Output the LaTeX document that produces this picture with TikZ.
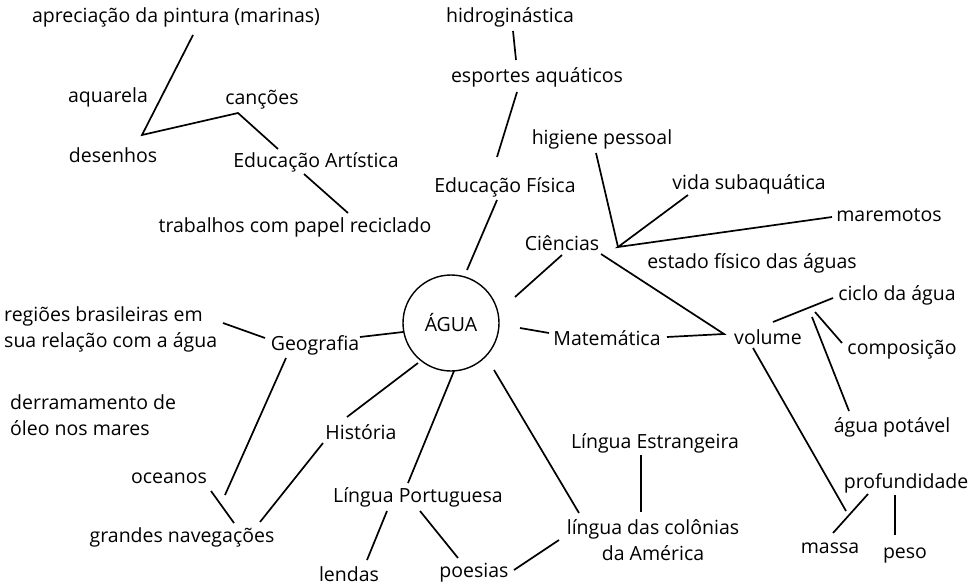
\documentclass[tikz,border=0pt]{standalone}
\usepackage{fontspec}
\setmainfont{Open Sans}
\begin{document}
\begin{tikzpicture}[x=1pt,y=-1pt,
  lbl/.style={inner sep=0pt,font=\fontsize{19.5}{26}\selectfont},
  ln/.style={line width=1.7pt,line join=miter}]
\useasboundingbox (0,0) rectangle (973,585);
% labels
\node[lbl] (apr) at (176,17) {apreciação da pintura (marinas)};
\node[lbl] (aqu) at (108,97) {aquarela};
\node[lbl] (can) at (262,100) {canções};
\node[lbl] (des) at (113,155) {desenhos};
\node[lbl] (edart) at (316,162) {Educação Artística};
\node[lbl] (trab) at (295,227) {trabalhos com papel reciclado};
\node[lbl] (hid) at (510,17) {hidroginástica};
\node[lbl] (esp) at (537,77) {esportes aquáticos};
\node[lbl] (edfis) at (505,187) {Educação Física};
\node[lbl] (hig) at (602,139) {higiene pessoal};
\node[lbl] (vida) at (749,184) {vida subaquática};
\node[lbl] (mare) at (889,215) {maremotos};
\node[lbl] (cien) at (562,243) {Ciências};
\node[lbl] (est) at (752,263) {estado físico das águas};
\node[draw,circle,line width=1.4pt,minimum size=96pt,inner sep=0pt,font=\fontsize{19.5}{26}\selectfont] (agua) at (451,323) {ÁGUA};
\node[lbl,align=left,anchor=west] (reg) at (4,329) {regiões brasileiras em\\sua relação com a água};
\node[lbl] (geo) at (315,345) {Geografia};
\node[lbl] (mat) at (607,338) {Matemática};
\node[lbl] (vol) at (768,337) {volume};
\node[lbl] (cic) at (897,295) {ciclo da água};
\node[lbl] (comp) at (902,350) {composição};
\node[lbl,align=left,anchor=west] (der) at (10,415) {derramamento de\\óleo nos mares};
\node[lbl] (pot) at (892,427) {água potável};
\node[lbl] (his) at (361,432) {História};
\node[lbl] (lest) at (655,443) {Língua Estrangeira};
\node[lbl] (oce) at (169,478) {oceanos};
\node[lbl] (prof) at (906,483) {profundidade};
\node[lbl] (lport) at (418,497) {Língua Portuguesa};
\node[lbl] (gran) at (182,537) {grandes navegações};
\node[lbl,align=center] (col) at (653,540) {língua das colônias\\da América};
\node[lbl] (mas) at (830,548) {massa};
\node[lbl] (peso) at (905,556) {peso};
\node[lbl] (len) at (349,574) {lendas};
\node[lbl] (poe) at (474,573) {poesias};
% endpoints
\coordinate (a1) at (193,35); \coordinate (a2) at (142,135);
\coordinate (a3) at (238,113); \coordinate (a4) at (278,149);
\coordinate (t1) at (304,174); \coordinate (t2) at (348,213);
\coordinate (h1) at (513,31); \coordinate (h2) at (516,60);
\coordinate (e1) at (517,92); \coordinate (e2) at (497,157);
\coordinate (f1) at (497,200); \coordinate (f2) at (467,270);
\coordinate (g1) at (596,153); \coordinate (J) at (618,247);
\coordinate (v1) at (688,195); \coordinate (m1) at (832,217);
\coordinate (c1) at (562,255); \coordinate (c2) at (515,297);
\coordinate (c3) at (601,254); \coordinate (V) at (724,334);
\coordinate (mt1) at (520,328); \coordinate (mt2) at (549,333);
\coordinate (mt3) at (667,337);
\coordinate (k1) at (773,322); \coordinate (k2) at (833,298);
\coordinate (k3) at (815,312); \coordinate (k4) at (842,343);
\coordinate (k5) at (812,317); \coordinate (k6) at (849,411);
\coordinate (ms1) at (753,348); \coordinate (ms2) at (846,511);
\coordinate (p1) at (833,533); \coordinate (p2) at (868,494);
\coordinate (p3) at (895,495); \coordinate (p4) at (895,535);
\coordinate (r1) at (223,323); \coordinate (r2) at (265,338);
\coordinate (gc1) at (360,337); \coordinate (gc2) at (403,332);
\coordinate (gg1) at (286,358); \coordinate (gg2) at (225,495);
\coordinate (o1) at (211,491); \coordinate (o2) at (234,523);
\coordinate (hi1) at (418,363); \coordinate (hi2) at (347,417);
\coordinate (hi3) at (323,443); \coordinate (hi4) at (260,522);
\coordinate (lp1) at (454,371); \coordinate (lp2) at (408,483);
\coordinate (lp3) at (387,511); \coordinate (lp4) at (367,560);
\coordinate (lp5) at (420,511); \coordinate (lp6) at (458,558);
\coordinate (po1) at (514,570); \coordinate (po2) at (559,540);
\coordinate (cl1) at (494,370); \coordinate (cl2) at (579,513);
\coordinate (le1) at (641,455); \coordinate (le2) at (641,512);
% lines
\draw[ln] (a1) -- (a2) -- (a3) -- (a4);
\draw[ln] (t1) -- (t2);
\draw[ln] (h1) -- (h2);
\draw[ln] (e1) -- (e2);
\draw[ln] (f1) -- (f2);
\draw[ln] (g1) -- (J);
\draw[ln] (v1) -- (J) -- (m1);
\draw[ln] (c1) -- (c2);
\draw[ln] (c3) -- (V) -- (mt3);
\draw[ln] (mt1) -- (mt2);
\draw[ln] (k1) -- (k2);
\draw[ln] (k3) -- (k4);
\draw[ln] (k5) -- (k6);
\draw[ln] (ms1) -- (ms2);
\draw[ln] (p1) -- (p2);
\draw[ln] (p3) -- (p4);
\draw[ln] (r1) -- (r2);
\draw[ln] (gc1) -- (gc2);
\draw[ln] (gg1) -- (gg2);
\draw[ln] (o1) -- (o2);
\draw[ln] (hi1) -- (hi2);
\draw[ln] (hi3) -- (hi4);
\draw[ln] (lp1) -- (lp2);
\draw[ln] (lp3) -- (lp4);
\draw[ln] (lp5) -- (lp6);
\draw[ln] (po1) -- (po2);
\draw[ln] (cl1) -- (cl2);
\draw[ln] (le1) -- (le2);
\end{tikzpicture}
\end{document}
